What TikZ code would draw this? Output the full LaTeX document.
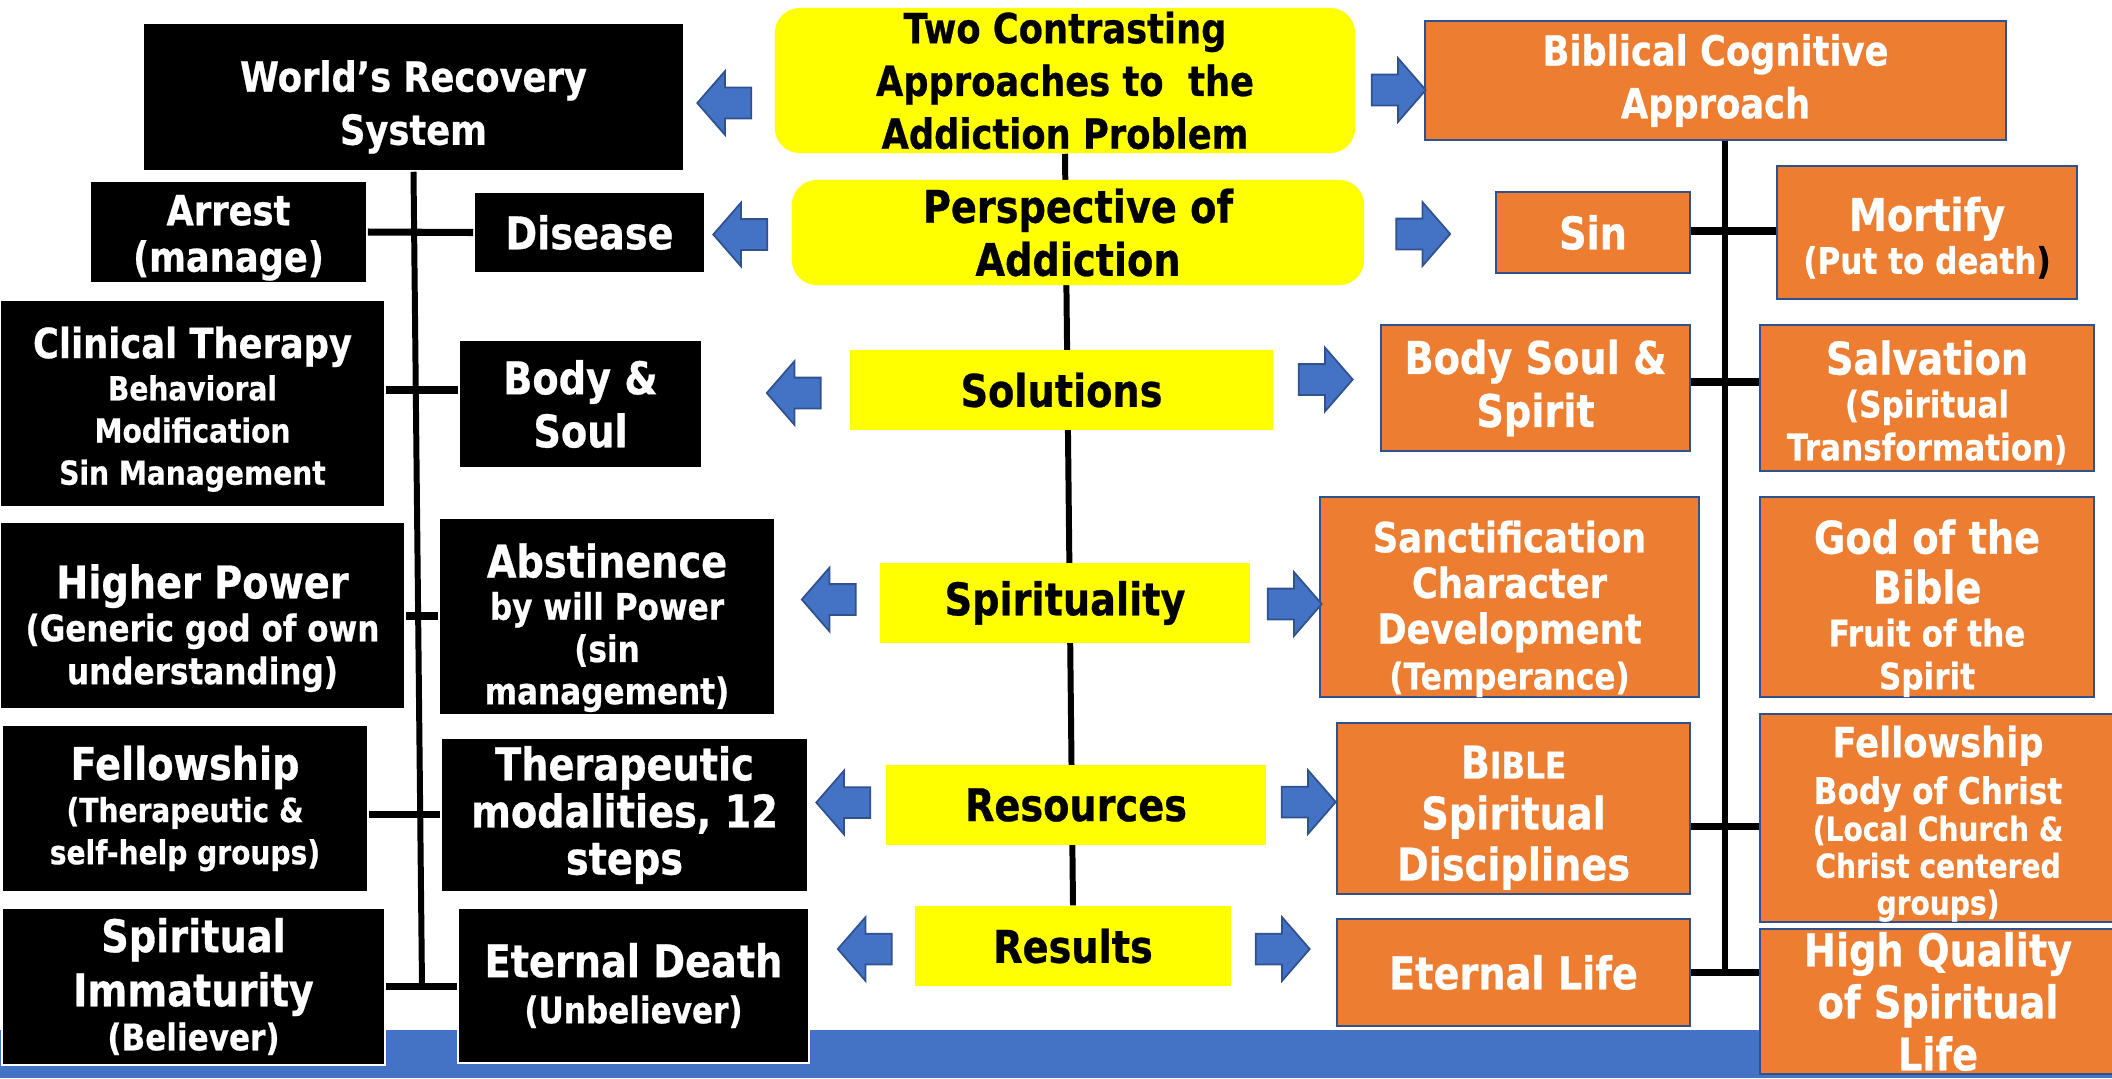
\documentclass[tikz,border=0pt]{standalone}
\usepackage{fontspec}
\setmainfont{DejaVu Sans}[FakeStretch=0.85, BoldFeatures={FakeBold=0.6}]
\usepackage{tikz}
\usetikzlibrary{shapes.arrows, positioning, backgrounds}

\definecolor{boxorange}{HTML}{ED7D31}
\definecolor{arrowblue}{HTML}{4472C4}
\definecolor{edgeblue}{HTML}{2F528F}
\definecolor{hiyellow}{HTML}{FFFF00}

\newcommand{\szA}{\fontsize{12.8}{15.1}\selectfont}
\newcommand{\szB}{\fontsize{11.8}{14}\selectfont}
\newcommand{\szC}{\fontsize{10.4}{12.3}\selectfont}
\newcommand{\szD}{\fontsize{9.4}{11.6}\selectfont}
\newcommand{\lead}[1]{\setlength{\baselineskip}{#1}}
\newcommand{\drop}[1]{\rule{0pt}{\dimexpr0.78em+#1\relax}}

\tikzset{
  cell/.style 2 args={rectangle, inner sep=0pt, align=center, font=\bfseries\szA, minimum width=#1, minimum height=#2},
  worldbox/.style 2 args={cell={#1}{#2}, fill=black, draw=white, line width=0.4pt, text=white},
  biblebox/.style 2 args={cell={#1}{#2}, fill=boxorange, draw=edgeblue, line width=0.6pt, text=white},
  headbox/.style 2 args={cell={#1}{#2}, fill=hiyellow, text=black},
  headround/.style 2 args={headbox={#1}{#2}, rounded corners=0.25cm},
  pointer/.style={single arrow, fill=arrowblue, draw=edgeblue, line width=0.5pt, inner xsep=0pt, inner ysep=0.145cm, minimum height=0.54cm, single arrow head extend=0.165cm, single arrow tip angle=98},
  pointl/.style={pointer, shape border rotate=180},
  pointr/.style={pointer},
  tie/.style={line width=2pt, black},
  spine/.style={line width=1.7pt, black}
}

\begin{document}
\begin{tikzpicture}[x=0.01cm, y=-0.01cm]
    \useasboundingbox (0,0) rectangle (2112,1078);

    \node[worldbox={5.41cm}{1.48cm}, font=\bfseries\szB\lead{15.1pt}] (WorldSystem) at (413.5,97) {\drop{5.4pt}World’s Recovery\\System};
    \node[worldbox={2.77cm}{1.02cm}, font=\bfseries\szB\lead{13.2pt}] (Arrest) at (228.5,232) {\drop{2.7pt}Arrest\\(manage)};
    \node[worldbox={2.31cm}{0.81cm}] (Disease) at (589.5,232.5) {Disease};
    \node[worldbox={3.85cm}{2.07cm}, font=\bfseries\szB\lead{12pt}] (Clinical) at (192.5,403.5) {\drop{3pt}Clinical Therapy\\\szD Behavioral\\\szD Modification\\\szD Sin Management};
    \node[worldbox={2.43cm}{1.28cm}] (BodySoul) at (580.5,404) {Body \&\\Soul};
    \node[worldbox={4.05cm}{1.87cm}, font=\bfseries\szA\lead{12.2pt}] (HigherPower) at (202.5,615.5) {\drop{6.9pt}Higher Power\\\szC (Generic god of own\\\szC understanding)};
    \node[worldbox={3.36cm}{1.97cm}, font=\bfseries\szA\lead{12pt}] (Abstinence) at (607,616.5) {\drop{6.1pt}Abstinence\\\szC by will Power\\\szC (sin\\\szC management)};
    \node[worldbox={3.66cm}{1.67cm}, font=\bfseries\szA\lead{12pt}] (FellowshipL) at (185,808.5) {Fellowship\\\szD (Therapeutic \&\\\szD self-help groups)};
    \node[worldbox={3.67cm}{1.54cm}, font=\bfseries\szA\lead{13.4pt}] (Therapeutic) at (624.5,815) {Therapeutic\\modalities, 12\\steps};

    \begin{pgfonlayer}{background}
        \fill[arrowblue] (0,1030) rectangle (2112,1078);
    \end{pgfonlayer}

    \node[worldbox={3.83cm}{1.57cm}, font=\bfseries\szA\lead{12.5pt}] (Immaturity) at (193.5,986.5) {Spiritual\\[2.9pt]Immaturity\\\szC (Believer)};
    \node[worldbox={3.51cm}{1.55cm}, font=\bfseries\szA\lead{13.1pt}] (EternalDeath) at (633.5,985.5) {Eternal Death\\\szC (Unbeliever)};

    \node[headround={5.80cm}{1.45cm}, font=\bfseries\szB\lead{15pt}] (Title) at (1065,80.5) {Two Contrasting\\Approaches to\ \ the\\Addiction Problem};
    \node[headround={5.72cm}{1.05cm}] (Perspective) at (1078,232.5) {Perspective of\\Addiction};
    \node[headbox={4.23cm}{0.80cm}] (Solutions) at (1061.5,390) {Solutions};
    \node[headbox={3.70cm}{0.80cm}] (Spirituality) at (1065,603) {Spirituality};
    \node[headbox={3.80cm}{0.80cm}] (Resources) at (1076,805) {Resources};
    \node[headbox={3.16cm}{0.80cm}] (Results) at (1073,946) {Results};

    \node[biblebox={5.81cm}{1.19cm}, font=\bfseries\szB\lead{15pt}] (Biblical) at (1715.5,80.5) {Biblical Cognitive\\Approach};
    \node[biblebox={1.94cm}{0.81cm}] (Sin) at (1593,232.5) {Sin};
    \node[biblebox={3.00cm}{1.33cm}, font=\bfseries\szA\lead{12.2pt}] (Mortify) at (1927,232.5) {\drop{2.7pt}Mortify\\\szC (Put to death{\color{black})}};
    \node[biblebox={3.09cm}{1.26cm}] (BodySoulSpirit) at (1535.5,388) {Body Soul \&\\Spirit};
    \node[biblebox={3.34cm}{1.46cm}, font=\bfseries\szA\lead{12.2pt}] (Salvation) at (1927,398) {\drop{2.3pt}Salvation\\\szC (Spiritual\\\szC Transformation{\szD)}};
    \node[biblebox={3.79cm}{2.00cm}, font=\bfseries\szB\lead{13pt}] (Sanctification) at (1509.5,597) {\drop{6.5pt}Sanctification\\Character\\Development\\\szC (Temperance)};
    \node[biblebox={3.34cm}{2.00cm}, font=\bfseries\szA\lead{12.2pt}] (GodBible) at (1927,597) {\drop{6.1pt}God of the\\[2pt]Bible\\\szC Fruit of the\\\szC Spirit};
    \node[biblebox={3.53cm}{1.71cm}, font=\bfseries\szA\lead{14.5pt}] (Bible) at (1513.5,808.5) {\drop{4.6pt}B{\szC IBLE}\\Spiritual\\Disciplines};
    \node[biblebox={3.56cm}{1.98cm}, font=\bfseries\szB\lead{10.5pt}] (FellowshipR) at (1938,818) {\drop{3pt}Fellowship\\[2.8pt]\szC Body of Christ\\\szD (Local Church \&\\\szD Christ centered\\\szD groups)};
    \node[biblebox={3.53cm}{1.07cm}] (EternalLife) at (1513.5,972.5) {Eternal Life};
    \node[biblebox={3.56cm}{1.45cm}, font=\bfseries\szA\lead{14.8pt}] (HighQuality) at (1938,1001.5) {High Quality\\of Spiritual\\Life};

    \node[pointl] (TitleL) at (731,103) {};
    \node[pointl] (PerspL) at (747,234.5) {};
    \node[pointl] (SolL) at (800.5,393) {};
    \node[pointl] (SpirL) at (835.5,599.5) {};
    \node[pointl] (ResL) at (850,802.5) {};
    \node[pointl] (ResultsL) at (871.5,949) {};
    \node[pointr] (TitleR) at (1392,90) {};
    \node[pointr] (PerspR) at (1416.5,234) {};
    \node[pointr] (SolR) at (1319,379.5) {};
    \node[pointr] (SpirR) at (1288,604) {};
    \node[pointr] (ResR) at (1302,802) {};
    \node[pointr] (ResultsR) at (1276,949) {};

    \coordinate (LeftFoot) at (422,986);
    \coordinate (RightFoot) at (1725,972);

    \begin{pgfonlayer}{background}
        \draw[spine] (Title.south) -- (Results.north);
    \end{pgfonlayer}
    \draw[spine] (WorldSystem.south) -- (LeftFoot);
    \draw[spine] (Biblical.south -| RightFoot) -- (RightFoot);

    \draw[tie] (Arrest.east) -- (Disease.west);
    \draw[tie] (Clinical.east |- 0,390) -- (BodySoul.west |- 0,390);
    \draw[tie] (HigherPower.east |- 0,616) -- (Abstinence.west |- 0,616);
    \draw[tie] (FellowshipL.east |- 0,814) -- (Therapeutic.west |- 0,814);
    \draw[tie] (Immaturity.east |- 0,986) -- (EternalDeath.west |- 0,986);
    \draw[tie] (Sin.east |- 0,231) -- (Mortify.west |- 0,231);
    \draw[tie] (BodySoulSpirit.east |- 0,382) -- (Salvation.west |- 0,382);
    \draw[tie] (Bible.east |- 0,826) -- (FellowshipR.west |- 0,826);
    \draw[tie] (EternalLife.east |- 0,972) -- (HighQuality.west |- 0,972);
\end{tikzpicture}
\end{document}
